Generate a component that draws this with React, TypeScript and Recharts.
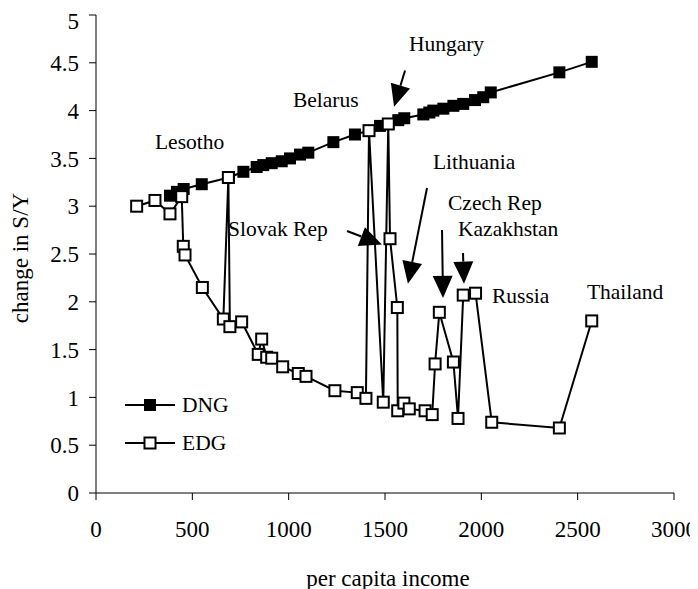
import React from "react";
import {
  LineChart,
  Line,
  XAxis,
  YAxis,
  Label,
  Legend,
  ReferenceDot,
  ReferenceLine,
} from "recharts";

const FONT = '"Liberation Serif", "Times New Roman", serif';

// DNG series (filled squares)
const dngIncome = [
  384, 420, 455, 549, 690, 765, 834, 868, 912, 964, 1007, 1059, 1102, 1232, 1344, 1417, 1474, 1517,
  1569, 1600, 1699, 1730, 1751, 1803, 1855, 1906, 1967, 2010, 2049, 2405, 2573,
];
const dngChange = [
  3.11, 3.15, 3.18, 3.23, 3.3, 3.36, 3.41, 3.43, 3.45, 3.47, 3.5, 3.54, 3.56, 3.67, 3.75, 3.79, 3.84,
  3.86, 3.9, 3.92, 3.96, 3.98, 4.0, 4.02, 4.05, 4.07, 4.11, 4.14, 4.19, 4.4, 4.51,
];

// EDG series (open squares)
const edgIncome = [
  211, 306, 384, 445, 453, 462, 552, 661, 687, 695, 756, 842, 860, 886, 912, 969, 1050, 1090, 1240,
  1356, 1401, 1417, 1491, 1517, 1526, 1564, 1566, 1598, 1626, 1708, 1745, 1760, 1782, 1855, 1879,
  1906, 1970, 2054, 2405, 2573,
];
const edgChange = [
  3.0, 3.06, 2.92, 3.1, 2.58, 2.49, 2.15, 1.82, 3.3, 1.74, 1.79, 1.45, 1.61, 1.42, 1.41, 1.32, 1.25,
  1.22, 1.07, 1.05, 0.99, 3.79, 0.95, 3.86, 2.66, 1.94, 0.86, 0.94, 0.88, 0.86, 0.82, 1.35, 1.89,
  1.37, 0.78, 2.07, 2.09, 0.74, 0.68, 1.8,
];

const xTicks = [0, 500, 1000, 1500, 2000, 2500, 3000];
const yTicks = [0, 0.5, 1, 1.5, 2, 2.5, 3, 3.5, 4, 4.5, 5];

// country labels: [text, income, change] (left edge, vertical centre)
const countryLabels: [string, number, number][] = [
  ["Hungary", 1624, 4.7],
  ["Belarus", 1022, 4.11],
  ["Lesotho", 306, 3.67],
  ["Lithuania", 1749, 3.46],
  ["Czech Rep", 1827, 3.03],
  ["Slovak Rep", 685, 2.76],
  ["Kazakhstan", 1879, 2.76],
  ["Russia", 2055, 2.06],
  ["Thailand", 2548, 2.1],
];

// arrows: [tailIncome, tailChange, tipIncome, tipChange]
const arrows: [number, number, number, number][] = [
  [1604, 4.42, 1547, 4.04],
  [1303, 2.74, 1484, 2.6],
  [1718, 3.19, 1619, 2.19],
  [1796, 2.75, 1801, 2.04],
  [1905, 2.51, 1910, 2.19],
];

const dngData = dngIncome.map((x, i) => ({ x, y: dngChange[i] }));
const edgData = edgIncome.map((x, i) => ({ x, y: edgChange[i] }));

const FilledSquare = (p: any) => {
  if (p.cx == null || p.cy == null) return null;
  return <rect x={p.cx - 6} y={p.cy - 6} width={12} height={12} fill="#000" />;
};

const OpenSquare = (p: any) => {
  if (p.cx == null || p.cy == null) return null;
  return (
    <rect x={p.cx - 5.5} y={p.cy - 5.5} width={11} height={11} fill="#fff" stroke="#000" strokeWidth={2} />
  );
};

const Arrow = (p: any) => {
  const { x1, y1, x2, y2 } = p;
  const dx = x2 - x1;
  const dy = y2 - y1;
  const len = Math.sqrt(dx * dx + dy * dy) || 1;
  const ux = dx / len;
  const uy = dy / len;
  const bx = x2 - ux * 22;
  const by = y2 - uy * 22;
  const nx = -uy * 10;
  const ny = ux * 10;
  return (
    <g>
      <line x1={x1} y1={y1} x2={bx} y2={by} stroke="#000" strokeWidth={2} />
      <polygon points={`${x2},${y2} ${bx + nx},${by + ny} ${bx - nx},${by - ny}`} fill="#000" />
    </g>
  );
};

const textShape = (text: string) => (p: any) =>
  (
    <text x={p.cx} y={p.cy} dominantBaseline="central" fontSize={21.5} fontFamily={FONT} fill="#000">
      {text}
    </text>
  );

const LegendBox = () => (
  <svg width={140} height={64}>
    <line x1={0} y1={12} x2={50} y2={12} stroke="#000" strokeWidth={2} />
    <rect x={19} y={6} width={12} height={12} fill="#000" />
    <text x={57} y={12} dominantBaseline="central" fontSize={21.5} fontFamily={FONT}>
      DNG
    </text>
    <line x1={0} y1={50} x2={50} y2={50} stroke="#000" strokeWidth={2} />
    <rect x={19.5} y={44.5} width={11} height={11} fill="#fff" stroke="#000" strokeWidth={2} />
    <text x={57} y={50} dominantBaseline="central" fontSize={21.5} fontFamily={FONT}>
      EDG
    </text>
  </svg>
);

const tickStyle = { fontSize: 23, fill: "#000", fontFamily: FONT };

export default function App() {
  return (
    <div>
      <style>{`html, body { overflow: hidden; }`}</style>
      <LineChart width={690} height={581} margin={{ top: 7, right: 24, bottom: 6, left: 0 }}>
        <XAxis
          type="number"
          dataKey="x"
          domain={[0, 3000]}
          ticks={xTicks}
          tick={tickStyle}
          tickSize={7}
          tickMargin={21}
          height={90}
          stroke="#000"
          allowDataOverflow
        >
          <Label
            content={(p: any) => {
              const vb = p.viewBox;
              return (
                <text
                  x={vb.x + vb.width / 2 + 3}
                  y={vb.y + 85}
                  textAnchor="middle"
                  dominantBaseline="central"
                  fontSize={23}
                  fontFamily={FONT}
                >
                  per capita income
                </text>
              );
            }}
          />
        </XAxis>
        <YAxis
          type="number"
          domain={[0, 5]}
          ticks={yTicks}
          tick={tickStyle}
          tickSize={7}
          tickMargin={10}
          width={88}
          stroke="#000"
          allowDataOverflow
        >
          <Label
            content={(p: any) => {
              const vb = p.viewBox;
              const cx = 12;
              const cy = vb.y + vb.height / 2 + 4;
              return (
                <text
                  x={cx}
                  y={cy}
                  transform={`rotate(-90, ${cx}, ${cy})`}
                  textAnchor="middle"
                  dominantBaseline="central"
                  fontSize={23}
                  fontFamily={FONT}
                >
                  change in S/Y
                </text>
              );
            }}
          />
        </YAxis>
        <Legend
          layout="vertical"
          align="center"
          verticalAlign="middle"
          content={() => <LegendBox />}
          wrapperStyle={{ position: "absolute", left: 117, top: 385, width: 140, height: 64 }}
        />
        <Line
          data={dngData}
          dataKey="y"
          name="DNG"
          stroke="#000"
          strokeWidth={2}
          dot={<FilledSquare />}
          activeDot={false}
          isAnimationActive={false}
        />
        <Line
          data={edgData}
          dataKey="y"
          name="EDG"
          stroke="#000"
          strokeWidth={2}
          dot={<OpenSquare />}
          activeDot={false}
          isAnimationActive={false}
        />
        {arrows.map((a, i) => (
          <ReferenceLine
            key={`arrow-${i}`}
            segment={[
              { x: a[0], y: a[1] },
              { x: a[2], y: a[3] },
            ]}
            shape={Arrow}
          />
        ))}
        {countryLabels.map(([t, x, y]) => (
          <ReferenceDot key={t} x={x} y={y} r={0} shape={textShape(t)} />
        ))}
      </LineChart>
    </div>
  );
}
